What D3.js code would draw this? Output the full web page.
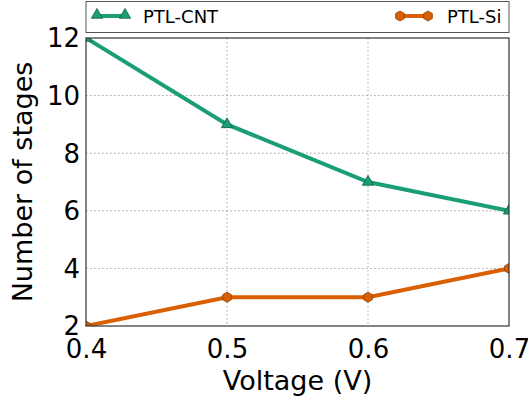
<!DOCTYPE html>
<html>
<head>
<meta charset="UTF-8">
<script src="https://d3js.org/d3.v7.min.js"></script>
<style>
  body { margin: 0; background: #fff; }
  text { font-family: "DejaVu Sans", sans-serif; fill: #000; }
</style>
</head>
<body>
<div id="chart"></div>
<script>
// Daten
const voltages = [0.4, 0.5, 0.6, 0.7];
const cntStages = [12, 9, 7, 6];
const siStages = [2, 3, 3, 4];
const xTicks = [0.4, 0.5, 0.6, 0.7];
const yTicks = [2, 4, 6, 8, 10, 12];

const width = 528, height = 400;
const margin = { top: 38, right: 19, bottom: 74, left: 86 };
const innerW = width - margin.left - margin.right;
const innerH = height - margin.top - margin.bottom;

const svg = d3.select('#chart').append('svg')
  .attr('width', width).attr('height', height);

const x = d3.scaleLinear().domain([0.4, 0.7]).range([0, innerW]);
const y = d3.scaleLinear().domain([2, 12]).range([innerH, 0]);

const g = svg.append('g').attr('transform', `translate(${margin.left},${margin.top})`);

svg.append('defs').append('clipPath').attr('id', 'clip')
  .append('rect').attr('width', innerW).attr('height', innerH);

// Gitterlinien
g.append('g').selectAll('line').data(xTicks.slice(1, -1)).join('line')
  .attr('x1', d => x(d)).attr('x2', d => x(d))
  .attr('y1', 0).attr('y2', innerH)
  .attr('stroke', '#888').attr('stroke-width', 0.8).attr('stroke-dasharray', '1.5,2.5');
g.append('g').selectAll('line').data(yTicks.slice(1, -1)).join('line')
  .attr('x1', 0).attr('x2', innerW)
  .attr('y1', d => y(d)).attr('y2', d => y(d))
  .attr('stroke', '#888').attr('stroke-width', 0.8).attr('stroke-dasharray', '1.5,2.5');

// Achsen
const xAxis = g.append('g').attr('transform', `translate(0,${innerH})`)
  .call(d3.axisBottom(x).tickValues(xTicks).tickFormat(d3.format('.1f')).tickSize(0).tickPadding(14));
const yAxis = g.append('g')
  .call(d3.axisLeft(y).tickValues(yTicks).tickFormat(d3.format('d')).tickSize(0).tickPadding(6));
[xAxis, yAxis].forEach(a => {
  a.select('.domain').remove();
  a.selectAll('text').style('font-size', '26px').style('font-family', '"DejaVu Sans", sans-serif').attr('fill', '#000');
});
yAxis.selectAll('text').attr('dy', '0.34em');

// Linien + Marker
const series = [
  { name: 'PTL-CNT', values: cntStages, color: '#1b9e77', edge: '#0f5c45', shape: 'tri' },
  { name: 'PTL-Si', values: siStages, color: '#d95f02', edge: '#8a3b00', shape: 'hex' }
];

function hexPath(r) {
  const pts = d3.range(6).map(i => {
    const a = Math.PI / 3 * i + Math.PI / 6;
    return [r * Math.cos(a), r * Math.sin(a)];
  });
  return 'M' + pts.map(p => p.join(',')).join('L') + 'Z';
}
function markerPath(s) {
  return s.shape === 'hex' ? hexPath(5) : d3.symbol(d3.symbolTriangle, 55)();
}

const plot = g.append('g').attr('clip-path', 'url(#clip)');
const line = d3.line().x((d, i) => x(voltages[i])).y(d => y(d));
series.forEach(s => {
  plot.append('path').datum(s.values)
    .attr('d', line).attr('fill', 'none')
    .attr('stroke', s.color).attr('stroke-width', 4);
  plot.selectAll(null).data(s.values).join('path')
    .attr('transform', (d, i) => `translate(${x(voltages[i])},${y(d)})`)
    .attr('d', markerPath(s))
    .attr('fill', s.color).attr('stroke', s.edge).attr('stroke-width', 0.8);
});

// Rahmen
g.append('rect').attr('width', innerW).attr('height', innerH)
  .attr('fill', 'none').attr('stroke', '#333').attr('stroke-width', 1.2);

// Legende
const leg = svg.append('g');
leg.append('rect').attr('x', margin.left).attr('y', 1.5).attr('width', innerW).attr('height', 31)
  .attr('fill', '#fff').attr('stroke', '#555').attr('stroke-width', 1);
const legItems = [{ s: series[0], x0: 94, tx: 143 }, { s: series[1], x0: 397, tx: 447 }];
legItems.forEach(({ s, x0, tx }) => {
  leg.append('line').attr('x1', x0).attr('x2', x0 + 34).attr('y1', 16).attr('y2', 16)
    .attr('stroke', s.color).attr('stroke-width', 4);
  [x0 + 3, x0 + 31].forEach(px => {
    leg.append('path').attr('transform', `translate(${px},${s.shape === 'hex' ? 16 : 15})`)
      .attr('d', markerPath(s))
      .attr('fill', s.color).attr('stroke', s.edge).attr('stroke-width', 0.8);
  });
  leg.append('text').attr('x', tx).attr('y', 22.5).style('font-size', '18px').text(s.name);
});

// Achsentitel
svg.append('text').attr('x', margin.left + innerW / 2).attr('y', 390)
  .attr('text-anchor', 'middle').style('font-size', '27px').text('Voltage (V)');
svg.append('text').attr('transform', `translate(32,${margin.top + innerH / 2}) rotate(-90)`)
  .attr('text-anchor', 'middle').style('font-size', '27px').text('Number of stages');
</script>
</body>
</html>
